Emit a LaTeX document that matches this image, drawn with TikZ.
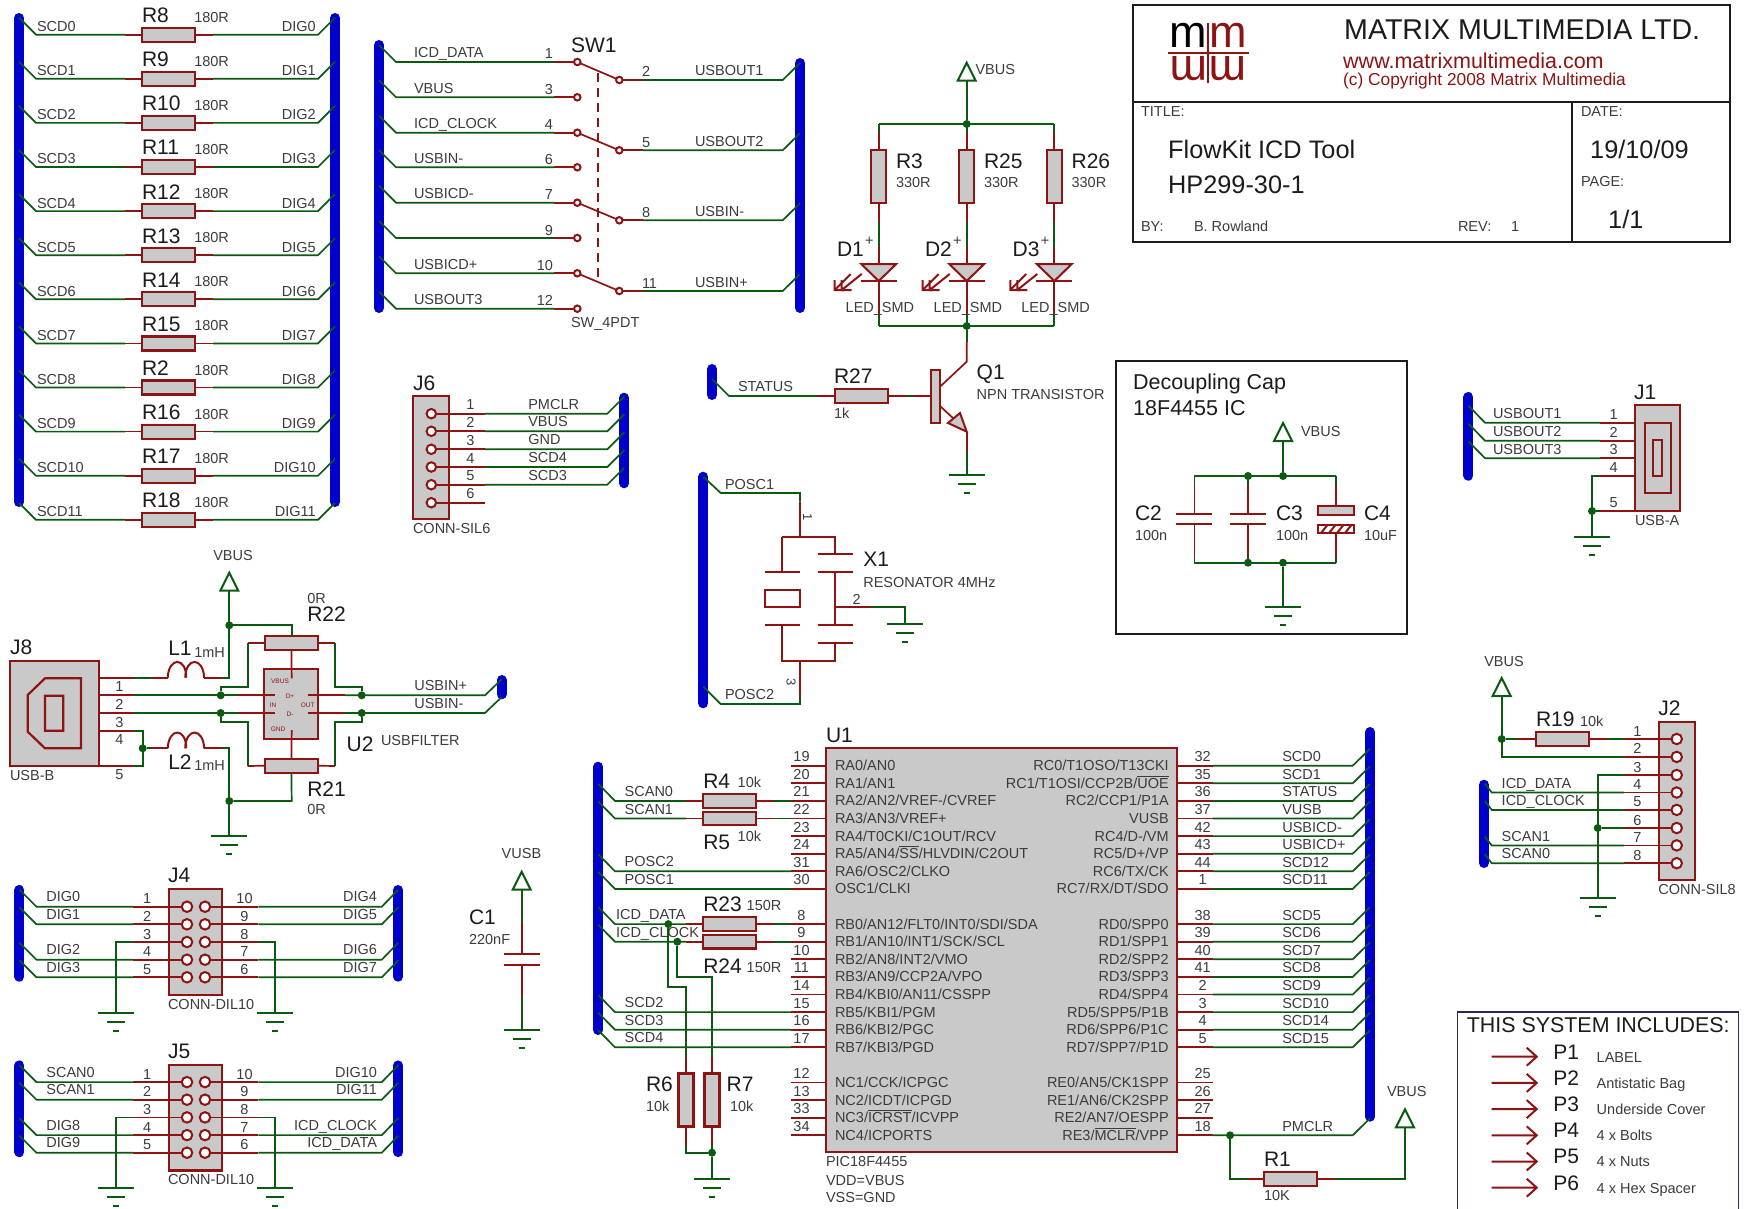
\documentclass[tikz,border=0pt]{standalone}
\usepackage{fontspec}
\setmainfont{Liberation Sans}
\usetikzlibrary{calc}
\definecolor{cgreen}{HTML}{0B5A12}
\definecolor{cred}{HTML}{8E1414}
\definecolor{cbody}{HTML}{C9C9C9}
\definecolor{cblue}{HTML}{0000CC}
\definecolor{ctxt}{HTML}{3C3C3C}
\definecolor{cdark}{HTML}{1C1C1C}
\definecolor{cbox}{HTML}{2A2A55}
\newcounter{tc}
\newcommand\lbl[5][base west]{\stepcounter{tc}\node[#2,anchor=#1] (t\thetc) at (#3,#4) {#5};}
\newcommand\ovl[1]{\leavevmode\setbox0=\hbox{#1}\rlap{\raisebox{11.5pt}{\rule{\wd0}{0.8pt}}}\box0}
\tikzset{
 wg/.style={draw=cgreen,line width=1.7pt,line join=miter},
 wr/.style={draw=cred,line width=1.7pt,line join=miter},
 busline/.style={draw=cblue,line width=10pt,line cap=round},
 sm/.style={font=\fontsize{14.5}{16}\selectfont,text=ctxt,inner sep=0pt,outer sep=0pt},
 bg/.style={font=\fontsize{21}{23}\selectfont,text=cdark,inner sep=0pt,outer sep=0pt},
 tiny/.style={font=\fontsize{6.5}{7}\selectfont,text=cred,inner sep=0pt,outer sep=0pt},
 hres/.style={rectangle,draw=cred,fill=cbody,line width=2.2pt,inner sep=0pt,outer sep=0pt,minimum width=53pt,minimum height=14pt},
 vres/.style={rectangle,draw=cred,fill=cbody,line width=2.2pt,inner sep=0pt,outer sep=0pt,minimum width=15pt,minimum height=53pt},
 body/.style={rectangle,draw=cred,fill=cbody,line width=2.2pt,inner sep=0pt,outer sep=0pt,anchor=north west},
 jn/.style={circle,fill=cgreen,inner sep=0pt,outer sep=0pt,minimum size=8pt},
 pinc/.style={circle,draw=cred,fill=white,line width=2pt,inner sep=0pt,outer sep=0pt,minimum size=9.5pt},
 swc/.style={circle,draw=cred,fill=white,line width=2pt,inner sep=0pt,outer sep=0pt,minimum size=6.5pt},
 frame/.style={draw=cdark,line width=2pt},
 big/.style={font=\fontsize{25.3}{27}\selectfont,inner sep=0pt,text=cdark},
 logo/.style={font=\fontsize{45}{45}\selectfont,inner sep=0pt}
}
\newcommand\mkbus[4]{\coordinate (#1t) at (#2,#3+5);\coordinate (#1b) at (#2,#4-5);\draw[busline] (#1t)--(#1b);}
\newcommand\mkgnd[3]{\coordinate (#1) at (#2,#3);
 \draw[wg,line width=2pt] (#2-18,#3)--(#2+18,#3) (#2-9,#3+9)--(#2+9,#3+9) (#2-3,#3+18)--(#2+3,#3+18);}
\newcommand\mkvcc[3]{\coordinate (#1) at (#2,#3+18);
 \draw[wg,line width=2pt] (#2,#3)--(#2-9,#3+18)--(#2+9,#3+18)--cycle;}
\newcommand\mkind[3]{\draw[wr,line width=2pt] (#2,#3) .. controls (#2+1,#3-21) and (#2+18.5,#3-21) .. (#2+18.5,#3)
 (#2+17.5,#3) .. controls (#2+18,#3-21) and (#2+35.5,#3-21) .. (#2+36.5,#3);\coordinate (#1a) at (#2,#3);\coordinate (#1b) at (#2+36.5,#3);}
\begin{document}
\begin{tikzpicture}[x=1pt,y=-1pt]
\useasboundingbox[fill=white] (0,0) rectangle (1744,1209);
% ---------- resistor array
\mkbus{BA}{19}{13}{507}
\mkbus{BB}{335}{13}{507}
\foreach \i/\nA/\nB/\nC in {0/R8/SCD0/DIG0,1/R9/SCD1/DIG1,2/R10/SCD2/DIG2,3/R11/SCD3/DIG3,4/R12/SCD4/DIG4,5/R13/SCD5/DIG5,6/R14/SCD6/DIG6,7/R15/SCD7/DIG7,8/R2/SCD8/DIG8,9/R16/SCD9/DIG9,10/R17/SCD10/DIG10,11/R18/SCD11/DIG11}{
 \pgfmathsetmacro\yy{34.7+44.1*\i}
 \coordinate (ra\i) at (19,\yy-17);\coordinate (rb\i) at (36,\yy);\coordinate (rc\i) at (125,\yy);
 \coordinate (rd\i) at (213,\yy);\coordinate (re\i) at (318,\yy);\coordinate (rf\i) at (335,\yy-17);
 \node[hres] (\nA) at (168.5,\yy) {};
 \draw[wg] (ra\i)--(rb\i)--(rc\i);\draw[wr] (rc\i)--(\nA.west) (\nA.east)--(rd\i);\draw[wg] (rd\i)--(re\i)--(rf\i);
 \lbl{sm}{37}{\yy-3}{\nB}
 \lbl[base east]{sm}{315.7}{\yy-3}{\nC}
 \lbl{bg}{142}{\yy-12}{\nA}
 \lbl{sm}{194.3}{\yy-12.5}{180R}
}
% ---------- SW1
\mkbus{BC}{379}{40}{313}
\mkbus{BD}{800}{58}{313}
\draw[wr,dash pattern=on 9pt off 6pt] (598,73)--(598,278);
\foreach \i/\yy/\nA/\nB in {0/62/1/ICD\_DATA,1/97.3/3/VBUS,2/132.7/4/ICD\_CLOCK,3/167.3/6/USBIN-,4/202.7/7/USBICD-,5/238/9/{},6/273.3/10/USBICD+,7/308.7/12/USBOUT3}{
 \coordinate (sa\i) at (379,\yy-17);\coordinate (sb\i) at (396,\yy);\coordinate (sc\i) at (554,\yy);
 \node[swc] (SWl\i) at (577.3,\yy) {};
 \draw[wg] (sa\i)--(sb\i)--(sc\i);\draw[wr] (sc\i)--(SWl\i.west);
 \lbl{sm}{414}{\yy-4}{\nB}
 \lbl[base east]{sm}{553}{\yy-3}{\nA}
}
\foreach \i/\yy/\nA/\nB in {0/80/2/USBOUT1,2/150.3/5/USBOUT2,4/220.3/8/USBIN-,6/291/11/USBIN+}{
 \coordinate (sd\i) at (643,\yy);\coordinate (se\i) at (782.7,\yy);\coordinate (sf\i) at (800,\yy-17);
 \node[swc] (SWr\i) at (619.3,\yy) {};
 \draw[wr] (SWr\i.east)--(sd\i);\draw[wg] (sd\i)--(se\i)--(sf\i);
 \draw[wr] (SWl\i)--(SWr\i);
 \lbl{sm}{642}{\yy-3}{\nA}
 \lbl{sm}{695}{\yy-4}{\nB}
}
\lbl{bg}{571}{52.7}{SW1}
\lbl{sm}{571}{327}{SW\_4PDT}
% ---------- LEDs
\mkvcc{VA}{966.7}{62.7}
\node[jn] (JLt) at (966.7,124) {};
\node[jn] (JLb) at (966.7,326) {};
\draw[wg] (VA)--(JLt);
\foreach \xx/\nA/\nB in {878.7/D1/R3,966.7/D2/R25,1054.3/D3/R26}{
 \coordinate (lt\nA) at (\xx,124);\coordinate (la\nA) at (\xx,131.7);
 \coordinate (lb\nA) at (\xx,221.7);\coordinate (lc\nA) at (\xx,246.7);\coordinate (ld\nA) at (\xx,264);
 \coordinate (le\nA) at (\xx,281);\coordinate (lf\nA) at (\xx,314);\coordinate (lg\nA) at (\xx,326);
 \node[vres] (\nB) at (\xx,176.3) {};
 \draw[wg] (lt\nA)--(la\nA);\draw[wr] (la\nA)--(\nB.north) (\nB.south)--(lb\nA);
 \draw[wg] (lb\nA)--(lc\nA);\draw[wr] (lc\nA)--(ld\nA);
 \draw[wr,fill=cbody,line width=2pt] (\xx-17.5,264)--(\xx+17.5,264)--(le\nA)--cycle;
 \draw[wr,line width=2pt] (\xx-18,281)--(\xx+18,281);
 \draw[wr] (le\nA)--(lf\nA);\draw[wg] (lf\nA)--(lg\nA);
 \draw[wr,line width=2pt] (\xx-17,274)--(\xx-37,290) (\xx-37,280)--(\xx-37,290)--(\xx-27,290);
 \draw[wr,line width=2pt] (\xx-28,274)--(\xx-44,290) (\xx-44,280)--(\xx-44,290)--(\xx-34,290);
 \lbl{sm}{\xx-33}{312}{LED\_SMD}
 \lbl{bg}{\xx-41.7}{256.7}{\nA}
 \lbl{sm}{\xx-13.5}{245}{+}
 \lbl{bg}{\xx+17.3}{168}{\nB}
 \lbl{sm}{\xx+17.3}{188}{330R}
}
\draw[wg] (ltD1)--(ltD3) (lgD1)--(lgD3);
% ---------- Q1 / R27
\mkbus{BE}{712}{364}{400}
\node[hres,minimum width=53pt] (R27) at (861.3,396) {};
\node[body,minimum width=9pt,minimum height=52.7pt] (Q1) at (931,370) {};
\coordinate (qs) at (712,379);\coordinate (qt) at (729,396);\coordinate (qu) at (817,396);
\coordinate (qv) at (906.7,396);\coordinate (qw) at (913,396);
\coordinate (qc) at (966.7,341.7);\coordinate (qd) at (966.7,361.7);\coordinate (qe) at (966.7,431.7);
\coordinate (qf) at (966.7,451.7);
\mkgnd{GQ}{966.7}{475}
\draw[wg] (qs)--(qt)--(qu);\draw[wr] (qu)--(R27.west) (R27.east)--(qv);\draw[wg] (qv)--(qw);\draw[wr] (qw)--(Q1.west|-qw);
\draw[wg] (JLb)--(qc);\draw[wr] (qc)--(qd)--(940,386.7);
\draw[wr] (940,406)--(955,420);
\draw[wr,fill=cbody,line width=2pt] (qe)--(960,413)--(948,423)--cycle;
\draw[wr] (qe)--(qf);\draw[wg] (qf)--(GQ);
\lbl{sm}{738}{391.5}{STATUS}
\lbl{bg}{834}{383}{R27}
\lbl{sm}{834}{418}{1k}
\lbl{bg}{976.7}{379}{Q1}
\lbl{sm}{976.7}{399}{NPN TRANSISTOR}
\lbl{sm}{975.5}{75}{VBUS}
% ---------- title block
\node[rectangle,frame,inner sep=0pt,outer sep=0pt,minimum width=597pt,minimum height=237pt,anchor=north west] (TB) at (1133,5) {};
\coordinate (tba) at (1133,101.7);\coordinate (tbb) at (1730,101.7);\coordinate (tbc) at (1572,101.7);\coordinate (tbd) at (1572,242);
\draw[frame] (tba)--(tbb) (tbc)--(tbd);
\coordinate (lga) at (1208,22.7);\coordinate (lgb) at (1208,83);\coordinate (lgc) at (1168,52.7);\coordinate (lgd) at (1249,52.7);
\draw[cred,line width=2pt] (lga)--(lgb) (lgc)--(lgd);
\lbl[base]{logo,text=black}{1188.5}{48}{m}
\lbl[base]{logo,text=cred}{1228}{48}{m}
\lbl[base]{logo,text=cred,rotate=180}{1188.5}{57}{m}
\lbl[base]{logo,text=cred,rotate=180}{1228}{57}{m}
\lbl{font=\fontsize{28.6}{30}\selectfont,inner sep=0pt,text=cdark}{1344}{40}{MATRIX MULTIMEDIA LTD.}
\lbl{font=\fontsize{21.5}{23}\selectfont,inner sep=0pt,text=cred}{1343}{68.3}{www.matrixmultimedia.com}
\lbl{font=\fontsize{17.3}{19}\selectfont,inner sep=0pt,text=cred}{1343}{86}{(c) Copyright 2008 Matrix Multimedia}
\lbl{sm}{1141}{116.7}{TITLE:}
\lbl{big}{1168}{158.3}{FlowKit ICD Tool}
\lbl{big}{1168}{193.3}{HP299-30-1}
\lbl{sm}{1141}{231}{BY:}
\lbl{sm}{1194}{231}{B. Rowland}
\lbl{sm}{1458}{231}{REV:}
\lbl{sm}{1511}{231}{1}
\lbl{sm}{1581}{116.7}{DATE:}
\lbl{big}{1590}{158.3}{19/10/09}
\lbl{sm}{1581}{186.7}{PAGE:}
\lbl{big}{1608}{228}{1/1}
% ---------- J6
\mkbus{BF}{624.3}{392.7}{488.3}
\node[body,minimum width=36pt,minimum height=123.3pt] (J6) at (413.3,396) {};
\foreach \i/\yy/\nB in {1/413.7/PMCLR,2/431.3/VBUS,3/449.3/GND,4/467/SCD4,5/484.7/SCD3}{
 \node[pinc] (Jsix\i) at (431.3,\yy) {};
 \coordinate (ja\i) at (485,\yy);\coordinate (jb\i) at (607.3,\yy);\coordinate (jc\i) at (624.3,\yy-17);
 \draw[wr] (Jsix\i.east)--(ja\i);\draw[wg] (ja\i)--(jb\i)--(jc\i);
 \lbl[base]{sm}{470.3}{\yy-4}{\i}
 \lbl{sm}{528.3}{\yy-4.4}{\nB}
}
\node[pinc] (Jsix6) at (431.3,502.7) {};
\coordinate (ja6) at (485,502.7);
\draw[wr] (Jsix6.east)--(ja6);
\lbl[base]{sm}{470.3}{498.7}{6}
\lbl{bg}{413}{390.7}{J6}
\lbl{sm}{413}{533}{CONN-SIL6}
% ---------- X1
\mkbus{BG}{703.3}{471.7}{708.3}
\coordinate (xa) at (703.3,476.7);\coordinate (xb) at (720.7,493);\coordinate (xc) at (800,493);\coordinate (xd) at (800,501.7);\coordinate (xe) at (800,536.7);
\coordinate (xf) at (782.3,536.7);\coordinate (xg) at (835,536.7);
\coordinate (xh) at (800,660.7);\coordinate (xi) at (782.3,660.7);\coordinate (xj) at (835,660.7);
\coordinate (xk) at (800,696.7);\coordinate (xl) at (800,704);\coordinate (xm) at (720.7,704);\coordinate (xn) at (703.3,686.7);
\coordinate (xo) at (835,606.7);\coordinate (xp) at (871,606.7);\coordinate (xq) at (905,606.7);
\mkgnd{GX}{905}{624.3}
\draw[wg] (xa)--(xb)--(xc)--(xd);\draw[wr] (xd)--(xe) (xf)--(xg);
\draw[wr,line width=2pt] (xf)--(782.3,571.7) (765,571.7)--(800,571.7) (765,625)--(800,625) (782.3,625)--(xi)--(xj)--(835,642.7) (817.7,642.7)--(853.3,642.7) (817.7,625)--(853.3,625) (835,625)--(835,571.7) (817.7,571.7)--(853.3,571.7) (817.7,554.3)--(853.3,554.3) (835,554.3)--(xg)--(xf);
\node[rectangle,draw=cred,fill=white,line width=2pt,minimum width=35pt,minimum height=17.3pt,inner sep=0pt] (XT) at (782.5,598.6) {};
\draw[wr] (xh)--(xk);\draw[wg] (xk)--(xl)--(xm)--(xn);
\draw[wr] (xo)--(xp);\draw[wg] (xp)--(xq)--(GX);
\lbl{sm}{725}{489.3}{POSC1}
\lbl{sm}{725}{699.3}{POSC2}
\lbl{bg}{863.3}{566.7}{X1}
\lbl{sm}{863.3}{587.3}{RESONATOR 4MHz}
\lbl[base]{sm}{856.7}{604}{2}
\lbl[center]{font=\fontsize{13}{14}\selectfont,inner sep=0pt,text=ctxt,rotate=-90}{807.7}{516.7}{1}
\lbl[center]{font=\fontsize{13}{14}\selectfont,inner sep=0pt,text=ctxt,rotate=-90}{791}{681.7}{3}
% ---------- decoupling
\node[rectangle,frame,inner sep=0pt,outer sep=0pt,minimum width=291.3pt,minimum height=273pt,anchor=north west] (DB) at (1115.5,361) {};
\lbl{font=\fontsize{21.5}{23}\selectfont,inner sep=0pt,text=cdark}{1133}{389}{Decoupling Cap}
\lbl{font=\fontsize{21.5}{23}\selectfont,inner sep=0pt,text=cdark}{1133}{415.7}{18F4455 IC}
\mkvcc{VD}{1283}{423}
\node[jn] (JDa) at (1248,476) {};\node[jn] (JDb) at (1283,476) {};
\node[jn] (JDc) at (1248,562.7) {};\node[jn] (JDd) at (1283,562.7) {};
\mkgnd{GD}{1283}{607.3}
\draw[wg] (VD)--(JDb) (JDd)--(GD);
\coordinate (dl) at (1194.4,476);\coordinate (dr) at (1336,476);\coordinate (dL) at (1194.4,562.7);\coordinate (dR) at (1336,562.7);
\draw[wg] (dl)--(dr) (dL)--(dR);
\foreach \xx in {1194.4,1248}{
 \draw[wg] (\xx,476)--(\xx,485) (\xx,556.7)--(\xx,562.7);
 \draw[wr] (\xx,485)--(\xx,514) (\xx,524)--(\xx,556.7);
 \draw[wr,line width=2.2pt] (\xx-18,514)--(\xx+18,514) (\xx-18,524)--(\xx+18,524);
}
\draw[wg] (1336,476)--(1336,485) (1336,556.7)--(1336,562.7);
\node[body,minimum width=36pt,minimum height=9pt] (CFa) at (1318,506) {};
\node[body,fill=white,minimum width=36pt,minimum height=8.3pt] (CFb) at (1318,525) {};
\draw[wr] (1336,485)--(1336,506) (1336,533.3)--(1336,556.7);
\foreach \xx in {1321,1329,1337,1345}{\draw[wr,line width=2pt] (\xx,533)--(\xx+6,525.5);}
\lbl{bg}{1135}{520}{C2}\lbl{sm}{1135}{540}{100n}
\lbl{bg}{1276}{520}{C3}\lbl{sm}{1276}{540}{100n}
\lbl{bg}{1364}{520}{C4}\lbl{sm}{1364}{540}{10uF}
\lbl{sm}{1301}{436.7}{VBUS}
% ---------- J1
\mkbus{BH}{1468.4}{392}{480.7}
\node[body,minimum width=45pt,minimum height=106pt] (J1) at (1635,405) {};
\draw[wr,line width=2.2pt] (1645,422.7) rectangle (1671,493.3) (1653,440) rectangle (1662,476);
\foreach \i/\yy/\nB in {1/422.7/USBOUT1,2/440.7/USBOUT2,3/458.3/USBOUT3}{
 \coordinate (ka\i) at (1468.4,\yy-17);\coordinate (kb\i) at (1485,\yy);\coordinate (kc\i) at (1600,\yy);\coordinate (kd\i) at (1635,\yy);
 \draw[wg] (ka\i)--(kb\i)--(kc\i);\draw[wr] (kc\i)--(kd\i);
 \lbl{sm}{1493}{\yy-4}{\nB}
 \lbl[base]{sm}{1613.6}{\yy-3.7}{\i}
}
\node[jn] (JK) at (1592,511) {};
\mkgnd{GK}{1592}{536.7}
\coordinate (ke) at (1635,476);\coordinate (kf) at (1600,476);\coordinate (kg) at (1592,476);\coordinate (kh) at (1635,511);\coordinate (ki) at (1600,511);
\draw[wr] (ke)--(kf) (kh)--(ki);\draw[wg] (kf)--(kg)--(GK) (ki)--(JK);
\lbl[base]{sm}{1613.6}{472.7}{4}\lbl[base]{sm}{1613.6}{507.7}{5}
\lbl{bg}{1634}{399}{J1}
\lbl{sm}{1635}{525.7}{USB-A}
% ---------- J8 / U2
\node[body,minimum width=88.7pt,minimum height=105.3pt] (J8) at (10,660.7) {};
\draw[wr,line width=2.2pt] (81,678.3)--(45,678.3)--(27.7,695)--(27.7,731.7)--(45,748.3)--(81,748.3)--cycle (45,695.7) rectangle (63.3,730.7);
\node[body,minimum width=53.4pt,minimum height=70pt] (U2) at (264.3,669.3) {};
\node[hres] (R22) at (291.4,642.7) {};
\node[hres] (R21) at (291.4,765.7) {};
\foreach \yy/\nA in {677.7/a,695.3/b,713/c,730.7/d,766/e}{
 \coordinate (pa\nA) at (98.7,\yy);\coordinate (pb\nA) at (134.3,\yy);
 \draw[wr] (pa\nA)--(pb\nA);
}
\mkvcc{VJ}{229.3}{572.7}
\node[jn] (JVa) at (229.3,625.3) {};
\node[jn] (JVb) at (229.3,801) {};
\node[jn] (JBl) at (220.7,695.3) {};\node[jn] (JBr) at (361.7,695.3) {};
\node[jn] (JCl) at (220.7,713) {};\node[jn] (JCr) at (361.7,713) {};
\node[jn] (JP) at (142.7,748.3) {};
\mkgnd{GJ}{229.3}{836}
\mkind{LA}{167.7}{677.7}
\mkind{LB}{167.7}{748.3}
\coordinate (ua) at (150.7,677.7);\coordinate (ub) at (221.7,677.7);\coordinate (uc) at (229.3,677.7);
\draw[wg] (pba)--(ua);\draw[wr] (ua)--(LAa) (LAb)--(ub);\draw[wg] (ub)--(uc)--(VJ);
\coordinate (ud) at (142.7,730.7);\coordinate (ue) at (142.7,766);\coordinate (uf) at (150.7,748.3);\coordinate (ug) at (221.7,748.3);\coordinate (uh) at (229.3,748.3);
\draw[wg] (pbd)--(ud)--(ue)--(pbe) (JP)--(uf);\draw[wr] (uf)--(LBa) (LBb)--(ug);\draw[wg] (ug)--(uh)--(GJ);
\coordinate (ui) at (291.7,625.3);\coordinate (uv) at (291.7,636);
\draw[wg] (JVa)--(ui)--(uv);
\draw[wr] (R22.south)--(291.7,678.3) (291.7,730)--(R21.north);
\coordinate (uw) at (291.7,801);
\draw[wg] (R21.south)--(uw)--(JVb);
\coordinate (uj) at (247.7,642.7);\coordinate (uk) at (247.7,686.7);\coordinate (ul) at (220.7,686.7);
\draw[wr] (R22.west)--(uj);\draw[wg] (uj)--(uk)--(ul)--(JBl);
\coordinate (um) at (335,642.7);\coordinate (un) at (335,686.7);\coordinate (uo) at (361.7,686.7);
\draw[wr] (R22.east)--(um);\draw[wg] (um)--(un)--(uo)--(JBr);
\coordinate (up) at (220.7,721.7);\coordinate (uq) at (247.7,721.7);\coordinate (ur) at (247.7,766);
\draw[wg] (JCl)--(up)--(uq)--(ur);\draw[wr] (ur)--(R21.west);
\coordinate (us) at (361.7,721.7);\coordinate (ut) at (335,721.7);\coordinate (uu) at (335,766);
\draw[wg] (JCr)--(us)--(ut)--(uu);\draw[wr] (uu)--(R21.east);
\mkbus{BI}{501.7}{675}{699.3}
\foreach \yy/\nA/\nB in {695.3/b/USBIN+,713/c/USBIN-}{
 \coordinate (va\nA) at (238.3,\yy);\coordinate (vb\nA) at (275,\yy);\coordinate (vc\nA) at (308.3,\yy);\coordinate (vd\nA) at (345,\yy);
 \coordinate (ve\nA) at (485,\yy);\coordinate (vf\nA) at (501.7,\yy-16);
 \draw[wg] (pb\nA)--(va\nA);\draw[wr] (va\nA)--(vb\nA) (vc\nA)--(vd\nA);\draw[wg] (vd\nA)--(ve\nA)--(vf\nA);
 \lbl{sm}{414.3}{\yy-4.6}{\nB}
}
\lbl[center]{tiny}{280}{681}{VBUS}\lbl[center]{tiny}{278}{729.7}{GND}\lbl[center]{tiny}{273}{705}{IN}\lbl[center]{tiny}{307.7}{705}{OUT}\lbl[center]{tiny}{290}{696.7}{D+}\lbl[center]{tiny}{290}{714}{D-}
\lbl{bg}{10}{654.3}{J8}
\lbl{sm}{10}{780.7}{USB-B}
\lbl[base]{sm}{119.3}{691.7}{1}\lbl[base]{sm}{119.3}{709.3}{2}\lbl[base]{sm}{119.3}{727}{3}\lbl[base]{sm}{119.3}{744.3}{4}\lbl[base]{sm}{119.3}{779.3}{5}
\lbl{bg}{168.3}{655}{L1}\lbl{sm}{194.3}{657.3}{1mH}
\lbl{bg}{168.3}{769.3}{L2}\lbl{sm}{194.3}{770.7}{1mH}
\lbl{sm}{213.3}{560}{VBUS}
\lbl{sm}{307.3}{603.3}{0R}\lbl{bg}{307.3}{621}{R22}
\lbl{bg}{307.3}{796.7}{R21}\lbl{sm}{307.3}{814}{0R}
\lbl{bg}{346.7}{751.7}{U2}\lbl{sm}{381}{745}{USBFILTER}
% ---------- J4 / J5
\foreach \o/\nA/\nB/\nC/\nD/\nE/\nF/\nG/\nH/\nI in {0/J4/{DIG0}/{DIG1}/{DIG2}/{DIG3}/{DIG4}/{DIG5}/{DIG6}/{DIG7},175.4/J5/{SCAN0}/{SCAN1}/{DIG8}/{DIG9}/{DIG10}/{DIG11}/{ICD\_CLOCK}/{ICD\_DATA}}{
 \pgfmathsetmacro\yt{885+\o}\pgfmathsetmacro\yb{981.7+\o}
 \mkbus{L\nA}{19.4}{\yt}{\yb}
 \mkbus{M\nA}{398.3}{\yt}{\yb}
 \pgfmathsetmacro\yt{889.3+\o}
 \node[body,minimum width=53pt,minimum height=105.8pt] (\nA) at (169.2,\yt) {};
 \pgfmathsetmacro\yg{1012.7+\o}
 \mkgnd{GL\nA}{116.2}{\yg}
 \mkgnd{GM\nA}{274.8}{\yg}
 \foreach \i/\yy/\a/\b/\ll/\rr in {1/906.7/1/10/\nB/\nF,2/924.3/2/9/\nC/\nG,3/942/3/8//,4/959.7/4/7/\nD/\nH,5/977.3/5/6/\nE/\nI}{
  \pgfmathsetmacro\ya{\yy+\o}
  \node[pinc,minimum size=10.5pt] (\nA l\i) at (187,\ya) {};
  \node[pinc,minimum size=10.5pt] (\nA r\i) at (205,\ya) {};
  \coordinate (\nA a\i) at (133.4,\ya);\coordinate (\nA b\i) at (258.3,\ya);
  \draw[wr] (\nA a\i)--(\nA l\i.west) (\nA r\i.east)--(\nA b\i);
  \lbl[base]{sm}{147.2}{\ya-3}{\a}
  \lbl[base]{sm}{244.5}{\ya-3}{\b}
  \ifnum\i=3
   \coordinate (\nA c3) at (116.2,\ya);\coordinate (\nA d3) at (274.8,\ya);
   \draw[wg] (\nA a3)--(\nA c3)--(GL\nA);\draw[wg] (\nA b3)--(\nA d3)--(GM\nA);
  \else
   \coordinate (\nA e\i) at (19.4,\ya-17);\coordinate (\nA f\i) at (36.5,\ya);
   \coordinate (\nA g\i) at (381.8,\ya);\coordinate (\nA h\i) at (398.3,\ya-17);
   \draw[wg] (\nA e\i)--(\nA f\i)--(\nA a\i);\draw[wg] (\nA b\i)--(\nA g\i)--(\nA h\i);
   \lbl{sm}{46.4}{\ya-5}{\ll}
   \lbl[base east]{sm}{377}{\ya-5}{\rr}
  \fi
 }
 \pgfmathsetmacro\ya{882.7+\o}\lbl{bg}{168}{\ya}{\nA}
 \pgfmathsetmacro\ya{1009.3+\o}\lbl{sm}{168}{\ya}{CONN-DIL10}
}
% ---------- C1
\mkvcc{VC}{521.7}{871.7}
\mkgnd{GC}{521.7}{1030}
\coordinate (ca) at (521.7,923.3);\coordinate (cb) at (521.7,954.3);\coordinate (cc) at (521.7,965);\coordinate (cd) at (521.7,996);
\draw[wg] (VC)--(ca) (cd)--(GC);\draw[wr] (ca)--(cb) (cc)--(cd);
\draw[wr,line width=2.2pt] (503.7,954.3)--(539.7,954.3) (503.7,965)--(539.7,965);
\lbl{bg}{469}{924.3}{C1}\lbl{sm}{469}{944.3}{220nF}
\lbl{sm}{501.7}{858.3}{VUSB}
% ---------- U1
\mkbus{BJ}{598.3}{761.7}{1035}
\mkbus{BK}{1370}{727}{1121.7}
\node[body,minimum width=351pt,minimum height=404pt] (U1) at (826,748.3) {};
\foreach \k/\nA/\nB in {0/19/{RA0/AN0},1/20/{RA1/AN1},2/21/{RA2/AN2/VREF-/CVREF},3/22/{RA3/AN3/VREF+},4/23/{RA4/T0CKI/C1OUT/RCV},5/24/{RA5/AN4/\ovl{SS}/HLVDIN/C2OUT},6/31/{RA6/OSC2/CLKO},7/30/{OSC1/CLKI},9/8/{RB0/AN12/FLT0/INT0/SDI/SDA},10/9/{RB1/AN10/INT1/SCK/SCL},11/10/{RB2/AN8/INT2/VMO},12/11/{RB3/AN9/CCP2A/VPO},13/14/{RB4/KBI0/AN11/CSSPP},14/15/{RB5/KBI1/PGM},15/16/{RB6/KBI2/PGC},16/17/{RB7/KBI3/PGD},18/12/{NC1/CCK/ICPGC},19/13/{NC2/ICDT/ICPGD},20/33/{NC3/\ovl{ICRST}/ICVPP},21/34/{NC4/ICPORTS}}{
 \pgfmathsetmacro\yy{765.7+17.6*\k}
 \coordinate (ULi\k) at (826,\yy);\coordinate (ULo\k) at (791,\yy);
 \draw[wr] (ULo\k)--(ULi\k);
 \lbl{sm}{835}{\yy+5}{\nB}
 \lbl[base]{sm}{801.5}{\yy-4}{\nA}
}
\foreach \k/\nA/\nB/\nC in {0/32/{RC0/T1OSO/T13CKI}/SCD0,1/35/{RC1/T1OSI/CCP2B/\ovl{UOE}}/SCD1,2/36/{RC2/CCP1/P1A}/STATUS,3/37/VUSB/VUSB,4/42/{RC4/D-/VM}/USBICD-,5/43/{RC5/D+/VP}/USBICD+,6/44/{RC6/TX/CK}/SCD12,7/1/{RC7/RX/DT/SDO}/SCD11,9/38/{RD0/SPP0}/SCD5,10/39/{RD1/SPP1}/SCD6,11/40/{RD2/SPP2}/SCD7,12/41/{RD3/SPP3}/SCD8,13/2/{RD4/SPP4}/SCD9,14/3/{RD5/SPP5/P1B}/SCD10,15/4/{RD6/SPP6/P1C}/SCD14,16/5/{RD7/SPP7/P1D}/SCD15,21/18/{RE3/\ovl{MCLR}/VPP}/PMCLR}{
 \pgfmathsetmacro\yy{765.7+17.6*\k}
 \coordinate (URi\k) at (1177,\yy);\coordinate (URo\k) at (1212.7,\yy);\coordinate (URb\k) at (1352.7,\yy);\coordinate (URs\k) at (1370,\yy-17);
 \draw[wr] (URi\k)--(URo\k);\draw[wg] (URo\k)--(URb\k)--(URs\k);
 \lbl[base east]{sm}{1168.7}{\yy+5}{\nB}
 \lbl[base]{sm}{1202.7}{\yy-4}{\nA}
 \lbl{sm}{1282.3}{\yy-4}{\nC}
}
\foreach \k/\nA/\nB in {18/25/{RE0/AN5/CK1SPP},19/26/{RE1/AN6/CK2SPP},20/27/{RE2/AN7/OESPP}}{
 \pgfmathsetmacro\yy{765.7+17.6*\k}
 \coordinate (URi\k) at (1177,\yy);\coordinate (URo\k) at (1212.7,\yy);
 \draw[wr] (URi\k)--(URo\k);
 \lbl[base east]{sm}{1168.7}{\yy+5}{\nB}
 \lbl[base]{sm}{1202.7}{\yy-4}{\nA}
}
% left nets
\foreach \k/\nA/\nB in {6/POSC2/624.7,7/POSC1/624.7,14/SCD2/624.7,15/SCD3/624.7,16/SCD4/624.7}{
 \pgfmathsetmacro\yy{765.7+17.6*\k}
 \coordinate (LNa\k) at (598.3,\yy-17);\coordinate (LNb\k) at (615,\yy);
 \draw[wg] (LNa\k)--(LNb\k)--(ULo\k);
 \lbl{sm}{\nB}{\yy-4.5}{\nA}
}
\foreach \k/\nA/\nB/\nC in {2/SCAN0/624.7/R4,3/SCAN1/624.7/R5,9/ICD\_DATA/616/R23,10/ICD\_CLOCK/616/R24}{
 \pgfmathsetmacro\yy{765.7+17.6*\k}
 \coordinate (LNa\k) at (598.3,\yy-17);\coordinate (LNb\k) at (615,\yy);\coordinate (LNc\k) at (686,\yy);\coordinate (LNd\k) at (774.3,\yy);
 \node[hres,minimum height=13.5pt] (\nC) at (729.6,\yy) {};
 \draw[wg] (LNa\k)--(LNb\k)--(LNc\k);\draw[wr] (LNc\k)--(\nC.west) (\nC.east)--(LNd\k);\draw[wg] (LNd\k)--(ULo\k);
 \lbl{sm}{\nB}{\yy-4.5}{\nA}
}
\node[jn] (JIa) at (668.3,924.1) {};
\node[jn] (JIb) at (677.3,941.7) {};
\node[vres] (R6) at (686,1100) {};
\node[vres] (R7) at (712,1100) {};
\node[jn] (JIc) at (712,1152.7) {};
\mkgnd{GI}{712}{1179}
\coordinate (ia) at (668.3,986.7);\coordinate (ib) at (686,986.7);\coordinate (ic) at (686,1056.7);
\coordinate (id) at (677.3,977.3);\coordinate (ie) at (712,977.3);\coordinate (if) at (712,1056.7);
\coordinate (ig) at (686,1145);\coordinate (ih) at (686,1152.7);\coordinate (ii) at (712,1145);
\draw[wg] (JIa)--(ia)--(ib)--(ic) (JIb)--(id)--(ie)--(if);
\draw[wr] (ic)--(R6.north) (if)--(R7.north) (R6.south)--(ig) (R7.south)--(ii);
\draw[wg] (ig)--(ih)--(JIc) (ii)--(JIc)--(GI);
\lbl{bg}{703.3}{788.3}{R4}\lbl{sm}{737.7}{787.7}{10k}
\lbl{bg}{703.3}{849.3}{R5}\lbl{sm}{737.7}{841}{10k}
\lbl{bg}{703.3}{911}{R23}\lbl{sm}{746.7}{910}{150R}
\lbl{bg}{703.3}{973.3}{R24}\lbl{sm}{746.7}{972.7}{150R}
\lbl{bg}{646}{1091}{R6}\lbl{sm}{646}{1111.7}{10k}
\lbl{bg}{726.7}{1091}{R7}\lbl{sm}{730}{1111.7}{10k}
\lbl{bg}{826}{742.7}{U1}
\lbl{sm}{826}{1166.7}{PIC18F4455}
\lbl{sm}{826}{1185}{VDD=VBUS}
\lbl{sm}{826}{1202}{VSS=GND}
% R1 / MCLR
\node[jn] (JR) at (1230,1135.3) {};
\node[hres] (R1) at (1290.8,1179) {};
\mkvcc{VR}{1405}{1109.3}
\coordinate (ma) at (1230,1179);\coordinate (mb) at (1247.3,1179);\coordinate (mc) at (1335,1179);\coordinate (md) at (1405,1179);
\draw[wg] (JR)--(ma)--(mb);\draw[wr] (mb)--(R1.west) (R1.east)--(mc);\draw[wg] (mc)--(md)--(VR);
\lbl{bg}{1264}{1166}{R1}\lbl{sm}{1264}{1200}{10K}
\lbl{sm}{1387}{1096.6}{VBUS}
% ---------- J2
\mkbus{BL}{1484}{779.7}{868}
\node[body,minimum width=35.7pt,minimum height=158.6pt] (J2) at (1659.3,721.7) {};
\foreach \i/\yy in {1/739,2/756.9,3/775,4/792.5,5/809.9,6/828,7/845.4,8/863.2}{
 \node[pinc,minimum size=10.5pt] (Jtwo\i) at (1676.7,\yy) {};
 \coordinate (ea\i) at (1624,\yy);
 \draw[wr] (Jtwo\i.west)--(ea\i);
 \lbl[base]{sm}{1637.3}{\yy-3}{\i}
}
\foreach \i/\yy/\nB in {4/792.5/ICD\_DATA,5/809.9/ICD\_CLOCK,7/845.4/SCAN1,8/863.2/SCAN0}{
 \coordinate (eb\i) at (1491.7,\yy);
 \coordinate (ec\i) at (1484.7,\yy-9);
 \draw[wg] (ea\i)--(eb\i)--(ec\i);
 \lbl{sm}{1501.7}{\yy-4.3}{\nB}
}
\mkvcc{VL}{1501.7}{678}
\node[jn] (JTa) at (1501.7,739) {};
\node[hres] (R19) at (1562.6,739) {};
\coordinate (eA) at (1607.3,739);\coordinate (eB) at (1518.3,739);\coordinate (eC) at (1501.7,756.9);
\draw[wg] (ea1)--(eA);\draw[wr] (eA)--(R19.east) (R19.west)--(eB);\draw[wg] (eB)--(JTa) (VL)--(eC)--(ea2);
\node[jn] (JTb) at (1597.7,828) {};
\mkgnd{GL}{1597.7}{897.7}
\coordinate (eD) at (1597.7,775);
\draw[wg] (ea3)--(eD)--(GL) (ea6)--(JTb);
\lbl{bg}{1658.3}{715.5}{J2}
\lbl{sm}{1658.3}{894.8}{CONN-SIL8}
\lbl{bg}{1536}{726.4}{R19}
\lbl{sm}{1580}{726.4}{10k}
\lbl{sm}{1484.3}{666}{VBUS}
% ---------- includes box
\coordinate (ba) at (1457.3,1209);\coordinate (bb) at (1457.3,1012);\coordinate (bc) at (1738.3,1012);\coordinate (bd) at (1738.3,1209);
\draw[draw=cbox,line width=1.4pt] (ba)--(bb)--(bc)--(bd);
\lbl{font=\fontsize{21.4}{23}\selectfont,inner sep=0pt,text=cdark}{1466.7}{1032.7}{THIS SYSTEM INCLUDES:}
\foreach \i/\nA/\nB in {0/P1/LABEL,1/P2/Antistatic Bag,2/P3/Underside Cover,3/P4/4 x Bolts,4/P5/4 x Nuts,5/P6/4 x Hex Spacer}{
 \pgfmathsetmacro\yy{1056.7+26.2*\i}
 \coordinate (aa\i) at (1491.7,\yy);\coordinate (ab\i) at (1536.7,\yy);
 \coordinate (ac\i) at (1526.7,\yy-9);\coordinate (ad\i) at (1526.7,\yy+9);
 \draw[wr,line width=2pt] (aa\i)--(ab\i) (ac\i)--(ab\i)--(ad\i);
 \lbl{bg}{1553.3}{\yy+2.3}{\nA}
 \lbl{sm}{1596.7}{\yy+5.3}{\nB}
}
\end{tikzpicture}
\end{document}
